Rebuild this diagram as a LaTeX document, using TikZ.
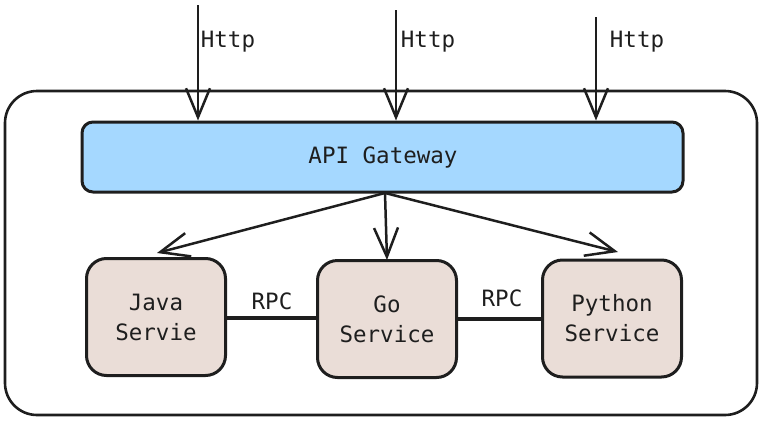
\documentclass[tikz,border=0pt]{standalone}
\usepackage{fontspec}
\setmonofont{DejaVu Sans Mono}
\usetikzlibrary{arrows.meta}
\definecolor{ink}{HTML}{1E1E1E}
\definecolor{gwfill}{HTML}{A5D8FF}
\definecolor{svcfill}{HTML}{EADDD7}
\tikzset{
  lbl/.style={font=\ttfamily\fontsize{22.5}{30}\selectfont, text=ink, inner sep=0pt, align=center},
  gwbox/.style={draw=ink, line width=3pt, fill=gwfill, rounded corners=11pt, minimum width=601pt, minimum height=70pt, inner sep=0pt},
  svcbox/.style={draw=ink, line width=3pt, fill=svcfill, rounded corners=20pt, minimum width=139pt, minimum height=117pt, inner sep=0pt, font=\ttfamily\fontsize{22.5}{30}\selectfont, text=ink, align=center},
  outerbox/.style={draw=ink, line width=2.6pt, rounded corners=32pt, minimum width=752pt, minimum height=324pt, inner sep=0pt},
  vhead/.style={-{Straight Barb[length=29pt, width=24pt, line width=2.5pt]}},
  flow/.style={draw=ink, line width=2.5pt, vhead},
  rpc/.style={draw=ink, line width=4.5pt},
}
\begin{document}
\begin{tikzpicture}[x=1pt, y=-1pt]
\useasboundingbox (0,0) rectangle (761,421);
\node[outerbox] (outer) at (381,253) {};
\node[gwbox] (gw) at (382.5,157) {};
\node[lbl] (gwlabel) at (383,157) {API Gateway};
\node[svcbox] (java) at (156,317) {Java\\Servie};
\node[svcbox] (go) at (387,319) {Go\\Service};
\node[svcbox] (python) at (612,318.5) {Python\\Service};
% incoming http
\coordinate (h1) at (198,5);
\coordinate (h2) at (396,10);
\coordinate (h3) at (596,17);
\draw[flow] (h1) -- (h1 |- gw.north);
\draw[flow] (h2) -- (h2 |- gw.north);
\draw[flow] (h3) -- (h3 |- gw.north);
\node[lbl] (t1) at (228,42) {Http};
\node[lbl] (t2) at (428,42) {Http};
\node[lbl] (t3) at (637,42) {Http};
% fan out
\coordinate (fan) at (385,193);
\coordinate (javatip) at (157,253);
\coordinate (gotip) at (387,260);
\coordinate (pytip) at (618,252);
\draw[flow] (fan) -- (javatip);
\draw[flow] (fan) -- (gotip);
\draw[flow] (fan) -- (pytip);
% rpc
\draw[rpc] (java.east |- 0,318) -- (go.west |- 0,318);
\draw[rpc] (go.east |- 0,319) -- (python.west |- 0,319);
\node[lbl] (r1) at (272,301) {RPC};
\node[lbl] (r2) at (502,298) {RPC};
\end{tikzpicture}
\end{document}
